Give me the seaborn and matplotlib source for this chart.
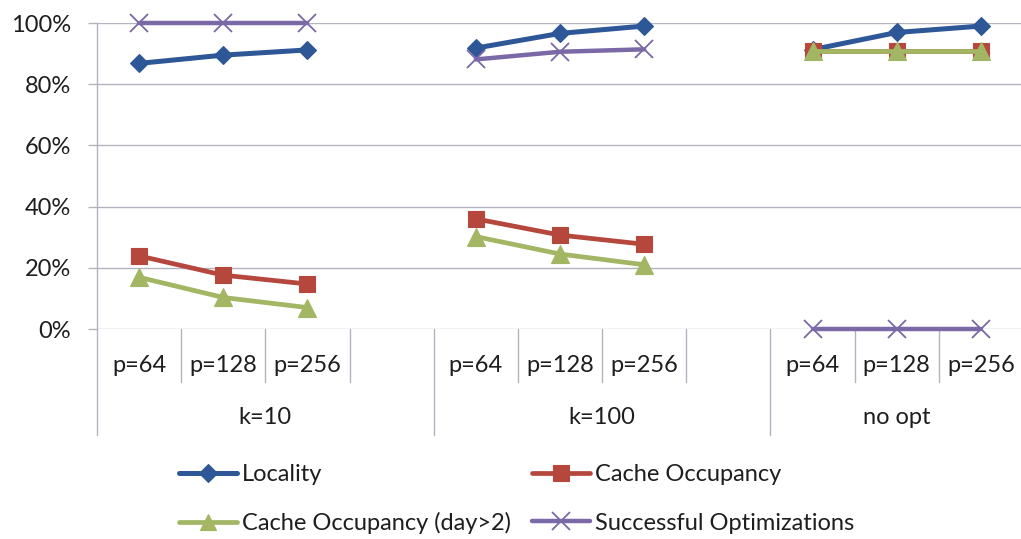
import numpy as np
import pandas as pd
import matplotlib
matplotlib.use("Agg")
import matplotlib.pyplot as plt
import seaborn as sns
from matplotlib.lines import Line2D
from matplotlib.ticker import PercentFormatter, FixedLocator
from matplotlib.transforms import blended_transform_factory

# ---- data -------------------------------------------------------------
p_labels = ["p=64", "p=128", "p=256"]
groups = ["k=10", "k=100", "no opt"]
series_names = ["Locality", "Cache Occupancy", "Cache Occupancy (day>2)",
                "Successful Optimizations"]

locality = [0.868, 0.895, 0.912, 0.918, 0.966, 0.990, 0.913, 0.969, 0.990]
cache_occ = [0.239, 0.176, 0.147, 0.360, 0.307, 0.277, 0.910, 0.910, 0.910]
cache_occ_day2 = [0.169, 0.103, 0.070, 0.302, 0.245, 0.210, 0.910, 0.910, 0.910]
successful = [1.000, 1.000, 1.000, 0.881, 0.906, 0.914, 0.000, 0.000, 0.000]

y_ticks = [0.0, 0.2, 0.4, 0.6, 0.8, 1.0]

# each group has three p slots plus one empty spacer slot (except the last)
slot_counts = [4, 4, 3]

rows = []
for name, vals in zip(series_names, [locality, cache_occ, cache_occ_day2, successful]):
    start = 0
    for gi, g in enumerate(groups):
        for pi, p in enumerate(p_labels):
            rows.append(dict(series=name, group=g, p=p, pos=start + pi,
                             value=vals[gi * 3 + pi]))
        start += slot_counts[gi]
df = pd.DataFrame(rows)
n_slots = sum(slot_counts)

# ---- style ------------------------------------------------------------
sns.set_theme(style="white")
plt.rcParams["font.family"] = ["Lato", "DejaVu Sans"]
text_color = "#1E1E1E"
grid_color = "#B3B3C0"
fs = 17

styles = {
    "Locality": dict(color="#2D5796", marker="D", markersize=9.2, lw=3.6),
    "Cache Occupancy": dict(color="#B5473D", marker="s", markersize=12, lw=3.4),
    "Cache Occupancy (day>2)": dict(color="#A2B664", marker="^", markersize=12.5, lw=3.4),
    "Successful Optimizations": dict(color="#7B68A6", marker="x", markersize=13, lw=3.2),
}

fig = plt.figure(figsize=(10.21, 5.39), dpi=100)
ax = fig.add_axes([97 / 1021, 1 - 329 / 539, 926 / 1021, 306 / 539])

for zi, name in enumerate(series_names):
    st = styles[name]
    sub = df[df.series == name]
    mkw = dict(markeredgecolor=st["color"], markerfacecolor=st["color"],
               markeredgewidth=1.3 if st["marker"] == "x" else 0.8)
    sns.lineplot(data=sub, x="pos", y="value", units="group", estimator=None,
                 sort=False, ax=ax, color=st["color"], marker=st["marker"],
                 markersize=st["markersize"], linewidth=st["lw"], legend=False,
                 clip_on=False, zorder=3 + zi, **mkw)

ax.set_xlim(-0.5, n_slots - 0.5)
ax.set_ylim(0, 1)
ax.yaxis.set_major_locator(FixedLocator(y_ticks))
ax.yaxis.set_major_formatter(PercentFormatter(1.0, decimals=0))
ax.set_xticks([])
ax.set_xlabel("")
ax.set_ylabel("")
ax.grid(axis="y", color=grid_color, linewidth=1.0)
ax.set_axisbelow(True)
for s in ["top", "right", "bottom"]:
    ax.spines[s].set_visible(False)
ax.spines["left"].set_color(grid_color)
ax.spines["left"].set_linewidth(1.0)
ax.tick_params(axis="y", which="major", left=True, length=6.5, width=1.0,
               color=grid_color, pad=12, labelsize=fs, labelcolor=text_color)

# ---- two-level category axis -----------------------------------------
tr = blended_transform_factory(ax.transData, ax.transAxes)
short_len, full_len = -53 / 306, -106 / 306
start = 0
for gi, g in enumerate(groups):
    b0 = start - 0.5
    ax.plot([b0, b0], [0, full_len], transform=tr, color=grid_color, lw=1.0,
            clip_on=False, zorder=1)
    for k in range(1, slot_counts[gi]):
        bx = start + k - 0.5
        ax.plot([bx, bx], [0, short_len], transform=tr, color=grid_color,
                lw=1.0, clip_on=False, zorder=1)
    for pi, p in enumerate(p_labels):
        ax.text(start + pi, -36 / 306, p, transform=tr, ha="center", va="center",
                fontsize=fs, color=text_color)
    end = start + slot_counts[gi] - 0.5
    ax.text((b0 + end) / 2, -89 / 306, g, transform=tr, ha="center", va="center",
            fontsize=fs, color=text_color)
    start += slot_counts[gi]

# ---- legend (two columns, row-major order) ---------------------------
def handle(name):
    st = styles[name]
    return Line2D([], [], color=st["color"], marker=st["marker"],
                  markersize=st["markersize"] * 0.95, linewidth=st["lw"],
                  markeredgecolor=st["color"], markerfacecolor=st["color"],
                  markeredgewidth=1.3 if st["marker"] == "x" else 0.8)

legend_kw = dict(frameon=False, fontsize=fs, handlelength=2.45, handletextpad=0.2,
                 labelspacing=1.15, borderpad=0, borderaxespad=0, loc="center left",
                 labelcolor=text_color)
col1 = [series_names[0], series_names[2]]
col2 = [series_names[1], series_names[3]]
leg1 = fig.legend([handle(n) for n in col1], col1,
                  bbox_to_anchor=(179 / 1021, 1 - 499 / 539), **legend_kw)
leg2 = fig.legend([handle(n) for n in col2], col2,
                  bbox_to_anchor=(532 / 1021, 1 - 499 / 539), **legend_kw)

fig.savefig("out.png", dpi=100, facecolor="white")
